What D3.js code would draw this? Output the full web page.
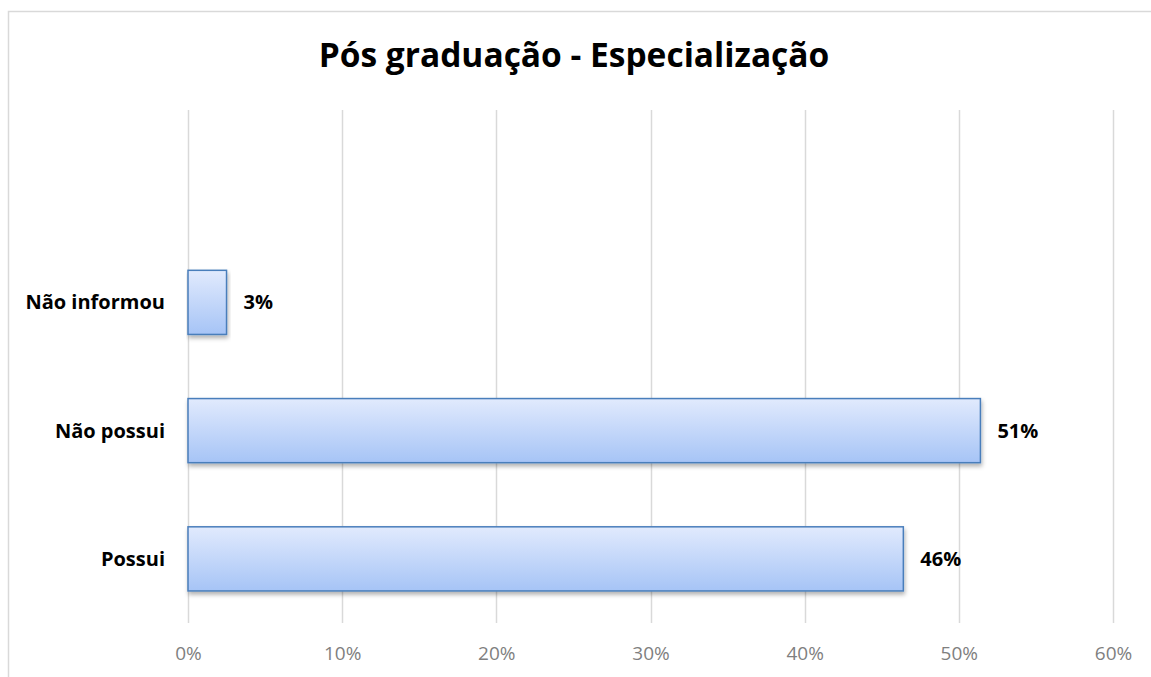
<!DOCTYPE html>
<html>
<head>
<meta charset="utf-8">
<script src="https://cdn.jsdelivr.net/npm/d3@7"></script>
<style>
  body { margin: 0; background: #fff; }
  svg { display: block; font-family: "Open Sans", sans-serif; }
</style>
</head>
<body>
<script>
// chart data
var titleText = "Pós graduação - Especialização";
var categories = ["Possui", "Não possui", "Não informou"];
var values = [46.4, 51.4, 2.5];
var valueLabels = ["46%", "51%", "3%"];
var tickValues = [0, 10, 20, 30, 40, 50, 60];

// layout parameters
var param = { width: 1151, height: 677 };
var plot = { left: 188, right: 1113, top: 110, bottom: 623 };

var svg = d3.select("body")
            .append("svg")
            .attr("width", param.width)
            .attr("height", param.height);

// gradient and shadow for the bars
var defs = svg.append("defs");
var grad = defs.append("linearGradient")
               .attr("id", "barGrad")
               .attr("x1", 0).attr("y1", 0)
               .attr("x2", 0).attr("y2", 1);
grad.append("stop").attr("offset", "0%").attr("stop-color", "#e1eafd");
grad.append("stop").attr("offset", "100%").attr("stop-color", "#a6c4f6");

var shadow = defs.append("filter")
                 .attr("id", "shadow")
                 .attr("x", "-5%").attr("y", "-10%")
                 .attr("width", "115%").attr("height", "130%");
shadow.append("feDropShadow")
      .attr("dx", 1).attr("dy", 3)
      .attr("stdDeviation", 2)
      .attr("flood-color", "#000")
      .attr("flood-opacity", 0.3);

// outer chart border
svg.append("rect")
   .attr("x", 8.5).attr("y", 11.5)
   .attr("width", param.width)
   .attr("height", param.height)
   .attr("fill", "none")
   .attr("stroke", "#d9d9d9")
   .attr("stroke-width", 1.5);

// scales (four slots, the top one empty like in the original)
var step = (plot.bottom - plot.top) / 4;
var xScale = d3.scaleLinear()
               .domain([0, 60])
               .range([plot.left, plot.right]);
var yScale = d3.scaleBand()
               .domain(categories)
               .range([plot.bottom, plot.top + step])
               .paddingInner(0.5)
               .paddingOuter(0.25);

// gridlines
svg.append("g")
   .selectAll("line")
   .data(tickValues)
   .enter()
   .append("line")
   .attr("x1", function(d) { return Math.round(xScale(d)) + 0.5; })
   .attr("x2", function(d) { return Math.round(xScale(d)) + 0.5; })
   .attr("y1", plot.top)
   .attr("y2", plot.bottom)
   .attr("stroke", "#d9d9d9")
   .attr("stroke-width", 1.5);

// x axis labels
var xAxis = d3.axisBottom(xScale)
              .tickValues(tickValues)
              .tickSize(0)
              .tickPadding(24)
              .tickFormat(function(d) { return d + "%"; });
var xg = svg.append("g")
            .attr("transform", "translate(0," + plot.bottom + ")")
            .call(xAxis);
xg.select(".domain").remove();
xg.selectAll("text")
  .attr("fill", "#7f7f7f")
  .style("font-family", "'Open Sans', sans-serif")
  .style("font-size", "19px");

// bars
svg.append("g")
   .selectAll("rect")
   .data(categories)
   .enter()
   .append("rect")
   .attr("x", xScale(0))
   .attr("y", function(d) { return yScale(d); })
   .attr("width", function(d, i) { return xScale(values[i]) - xScale(0); })
   .attr("height", yScale.bandwidth())
   .attr("fill", "url(#barGrad)")
   .attr("stroke", "#4a7ebb")
   .attr("stroke-width", 1.5)
   .attr("filter", "url(#shadow)");

// category labels
svg.append("g")
   .selectAll("text")
   .data(categories)
   .enter()
   .append("text")
   .attr("x", 165)
   .attr("y", function(d) { return yScale(d) + yScale.bandwidth() / 2; })
   .attr("dy", "0.35em")
   .attr("text-anchor", "end")
   .style("font-weight", "bold")
   .style("font-size", "20px")
   .text(function(d) { return d; });

// value labels
svg.append("g")
   .selectAll("text")
   .data(categories)
   .enter()
   .append("text")
   .attr("x", function(d, i) { return xScale(values[i]) + 17; })
   .attr("y", function(d) { return yScale(d) + yScale.bandwidth() / 2; })
   .attr("dy", "0.35em")
   .style("font-weight", "bold")
   .style("font-size", "20px")
   .text(function(d, i) { return valueLabels[i]; });

// title
svg.append("text")
   .attr("x", 574)
   .attr("y", 67)
   .attr("text-anchor", "middle")
   .style("font-weight", "bold")
   .style("font-size", "33.5px")
   .text(titleText);
</script>
</body>
</html>
